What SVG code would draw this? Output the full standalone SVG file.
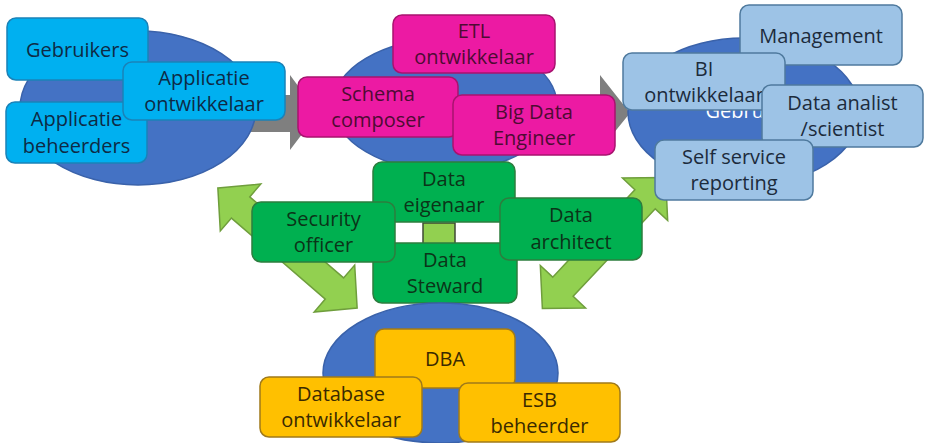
<svg xmlns="http://www.w3.org/2000/svg" width="926" height="443" viewBox="0 0 926 443">
  <style>
    .ell { fill: #4472C4; stroke: #3A62AA; stroke-width: 1.5; }
    .box { stroke-width: 1.5; }
    .cyan { fill: #00B0F0; stroke: #1A82B8; }
    .pink { fill: #EC1AA3; stroke: #A8136F; }
    .steel { fill: #9DC3E6; stroke: #4F7A9E; }
    .green { fill: #00B050; stroke: #2D7D3E; }
    .amber { fill: #FFC000; stroke: #A07A1A; }
    text { font-family: "Open Sans", "Liberation Sans", sans-serif; font-size: 20px; text-anchor: middle; }
    .t-cyan { fill: #0E2A45; }
    .t-pink { fill: #4E0B33; }
    .t-steel { fill: #1C2B3C; }
    .t-green { fill: #0B3418; }
    .t-amber { fill: #3A2A00; }
    .t-hidden { fill: #FFFFFF; }
    .flow { fill: #7F7F7F; stroke: none; }
    .link { fill: #92D050; stroke: #6F9E3C; stroke-width: 1.5; }
  </style>

  <!-- connectors: grey flow arrows and green two-way arrows -->
  <g id="connectors">
    <polygon class="flow" points="245,95 290,95 290,75 318,113 290,150 290,132 245,132"/>
    <polygon class="flow" points="560,95 600,95 600,75 630,113 600,150 600,132 560,132"/>
    <g transform="translate(287.5,248) rotate(40.8)">
      <polygon class="link" points="-92,0 -62,-31 -62,-14 62,-14 62,-31 92,0 62,31 62,14 -62,14 -62,31"/>
    </g>
    <g transform="translate(604,243) rotate(-46.8)">
      <polygon class="link" points="-90,0 -60,-31 -60,-14 60,-14 60,-31 90,0 60,31 60,14 -60,14 -60,31"/>
    </g>
    <rect class="link" x="423" y="223" width="32" height="21" style="stroke:#3F4A35"/>
  </g>

  <!-- application side -->
  <g id="apps">
    <ellipse class="ell" cx="138" cy="108" rx="118" ry="77"/>
    <g id="gebruikers-app">
      <rect class="box cyan" x="7" y="18" width="141" height="62" rx="9"/>
      <text class="t-cyan" x="77.5" y="57">Gebruikers</text>
    </g>
    <g id="applicatie-beheerders">
      <rect class="box cyan" x="6" y="102" width="141" height="61" rx="9"/>
      <text class="t-cyan" x="76.5" y="126">Applicatie</text>
      <text class="t-cyan" x="76.5" y="153">beheerders</text>
    </g>
    <g id="applicatie-ontwikkelaar">
      <rect class="box cyan" x="123" y="62" width="162" height="58" rx="9"/>
      <text class="t-cyan" x="204" y="85">Applicatie</text>
      <text class="t-cyan" x="204" y="111">ontwikkelaar</text>
    </g>
  </g>

  <!-- integration layer -->
  <g id="integration">
    <ellipse class="ell" cx="445" cy="105" rx="112" ry="66"/>
    <g id="etl-ontwikkelaar">
      <rect class="box pink" x="393" y="15" width="162" height="58" rx="9"/>
      <text class="t-pink" x="474" y="38">ETL</text>
      <text class="t-pink" x="474" y="64">ontwikkelaar</text>
    </g>
    <g id="schema-composer">
      <rect class="box pink" x="298" y="77" width="160" height="60" rx="9"/>
      <text class="t-pink" x="378" y="101">Schema</text>
      <text class="t-pink" x="378" y="127">composer</text>
    </g>
    <g id="big-data-engineer">
      <rect class="box pink" x="453" y="95" width="162" height="60" rx="9"/>
      <text class="t-pink" x="534" y="119">Big Data</text>
      <text class="t-pink" x="534" y="145">Engineer</text>
    </g>
  </g>

  <!-- business intelligence side; its own label sits under the role boxes -->
  <g id="bi">
    <ellipse class="ell" cx="744" cy="112" rx="116" ry="74"/>
    <text class="t-hidden" x="757" y="118">Gebruikers</text>
    <g id="management">
      <rect class="box steel" x="740" y="5" width="162" height="60" rx="9"/>
      <text class="t-steel" x="821" y="43">Management</text>
    </g>
    <g id="bi-ontwikkelaar">
      <rect class="box steel" x="623" y="53" width="162" height="57" rx="9"/>
      <text class="t-steel" x="704" y="76">BI</text>
      <text class="t-steel" x="704" y="102">ontwikkelaar</text>
    </g>
    <g id="data-analist">
      <rect class="box steel" x="762" y="85" width="161" height="62" rx="9"/>
      <text class="t-steel" x="842.5" y="110">Data analist</text>
      <text class="t-steel" x="842.5" y="136">/scientist</text>
    </g>
    <g id="self-service">
      <rect class="box steel" x="655" y="140" width="158" height="60" rx="9"/>
      <text class="t-steel" x="734" y="164">Self service</text>
      <text class="t-steel" x="734" y="190">reporting</text>
    </g>
  </g>

  <!-- data governance roles -->
  <g id="governance">
    <g id="data-eigenaar">
      <rect class="box green" x="373" y="162" width="142" height="60" rx="9"/>
      <text class="t-green" x="444" y="186">Data</text>
      <text class="t-green" x="444" y="212">eigenaar</text>
    </g>
    <g id="data-steward">
      <rect class="box green" x="373" y="243" width="144" height="60" rx="9"/>
      <text class="t-green" x="445" y="267">Data</text>
      <text class="t-green" x="445" y="293">Steward</text>
    </g>
    <g id="security-officer">
      <rect class="box green" x="252" y="202" width="143" height="60" rx="9"/>
      <text class="t-green" x="323.5" y="226">Security</text>
      <text class="t-green" x="323.5" y="252">officer</text>
    </g>
    <g id="data-architect">
      <rect class="box green" x="500" y="198" width="142" height="62" rx="9"/>
      <text class="t-green" x="571" y="222">Data</text>
      <text class="t-green" x="571" y="249">architect</text>
    </g>
  </g>

  <!-- database layer -->
  <g id="database">
    <ellipse class="ell" cx="440.5" cy="373" rx="117.5" ry="70"/>
    <g id="dba">
      <rect class="box amber" x="375" y="329" width="140" height="59" rx="9"/>
      <text class="t-amber" x="445" y="366">DBA</text>
    </g>
    <g id="database-ontwikkelaar">
      <rect class="box amber" x="260" y="377" width="162" height="60" rx="9"/>
      <text class="t-amber" x="341" y="401">Database</text>
      <text class="t-amber" x="341" y="427">ontwikkelaar</text>
    </g>
    <g id="esb-beheerder">
      <rect class="box amber" x="459" y="383" width="161" height="59" rx="9"/>
      <text class="t-amber" x="539.5" y="407">ESB</text>
      <text class="t-amber" x="539.5" y="433">beheerder</text>
    </g>
  </g>
</svg>
